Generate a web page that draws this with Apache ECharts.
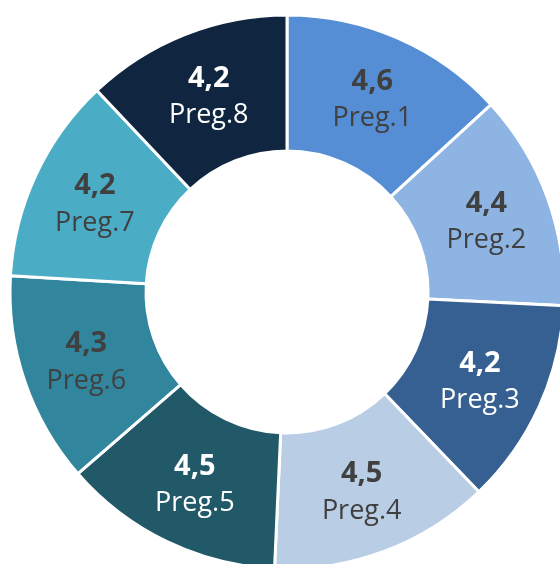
<!DOCTYPE html>
<html>
<head>
<meta charset="utf-8">
<script src="https://cdn.jsdelivr.net/npm/echarts@6/dist/echarts.min.js"></script>
<style>html,body{margin:0;padding:0;background:#fff;}#c{width:560px;height:564px;}</style>
</head>
<body>
<div id="c"></div>
<script>
const categories = ['Preg.1','Preg.2','Preg.3','Preg.4','Preg.5','Preg.6','Preg.7','Preg.8'];
const values = [4.6, 4.4, 4.2, 4.5, 4.5, 4.3, 4.2, 4.2];
const colors = ['#558ED5','#8EB4E3','#376092','#B9CDE5','#215968','#31859C','#4BACC6','#10253F'];
const labelColors = ['#404040','#404040','#ffffff','#404040','#ffffff','#404040','#404040','#ffffff'];

const chart = echarts.init(document.getElementById('c'), null, {renderer:'canvas'});
chart.setOption({
  animation: false,
  backgroundColor: '#ffffff',
  series: [{
    type: 'pie',
    center: [287, 292],
    radius: [141, 277],
    startAngle: 90,
    clockwise: true,
    avoidLabelOverlap: false,
    itemStyle: { borderColor: '#ffffff', borderWidth: 3 },
    label: {
      show: true,
      position: 'inside',
      fontFamily: 'Open Sans',
      formatter: p => '{v|' + String(p.value).replace('.', ',') + '}\n{n|' + p.name + '}',
      rich: {
        v: { fontFamily: 'Open Sans', fontWeight: 'bold', fontSize: 29, lineHeight: 41, padding: [8, 0, 0, 0] },
        n: { fontFamily: 'Open Sans', fontSize: 27, lineHeight: 41 }
      }
    },
    labelLine: { show: false },
    emphasis: { disabled: true },
    data: categories.map((c, i) => ({
      name: c,
      value: values[i],
      itemStyle: { color: colors[i] },
      label: { color: labelColors[i], rich: { v: { color: labelColors[i] }, n: { color: labelColors[i] } } }
    }))
  }]
});
</script>
</body>
</html>
